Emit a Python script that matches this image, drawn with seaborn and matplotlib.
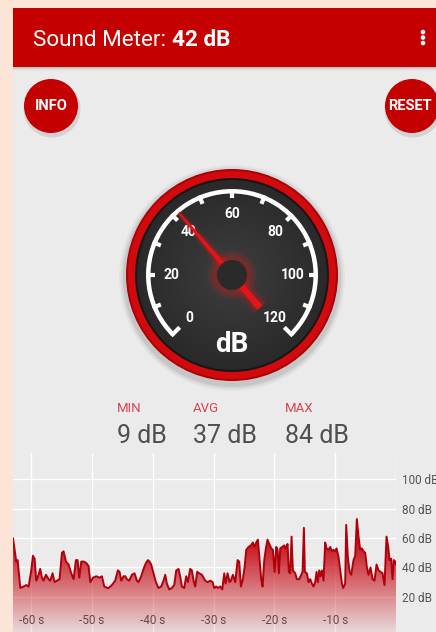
import numpy as np
import matplotlib
matplotlib.use("Agg")
import matplotlib.pyplot as plt
import seaborn as sns
from matplotlib.patches import Circle, Wedge, Rectangle, Polygon

# valores
nivel_actual = 42
nombres_stats = ["MIN", "AVG", "MAX"]
valores_stats = [9, 37, 84]

escala_gauge = [0, 10, 20, 30, 40, 50, 60, 70, 80, 90, 100, 110, 120]
etiquetas_gauge = [0, 20, 40, 60, 80, 100, 120]

ticks_seg = [-60, -50, -40, -30, -20, -10]
ticks_db = [20, 40, 60, 80, 100]

# historial (segundos, dB)
tiempos = [
    -63.0, -62.46, -62.24, -61.8, -61.26, -60.82, -60.43, -60.0, -59.72, -59.45,
    -59.17, -58.79, -58.52, -58.24, -57.97, -57.58, -57.15, -56.87, -56.49, -56.16,
    -55.77, -55.34, -54.95, -54.68, -54.29, -53.86, -53.42, -53.03, -52.65, -52.38,
    -52.1, -51.77, -51.39, -50.95, -50.57, -50.29, -49.85, -49.3, -48.76, -48.37,
    -47.99, -47.44,
    -47.28, -46.73, -46.19, -45.75, -45.47, -45.2, -44.81, -44.54, -44.27, -43.88,
    -43.44, -43.01, -42.62, -42.35, -41.91, -41.53, -41.14, -40.81, -40.54, -40.27,
    -39.88, -39.5, -39.06, -38.62, -38.24, -37.96, -37.69, -37.3, -36.87, -36.48,
    -36.15, -35.77, -35.5, -35.22, -34.84, -34.51, -34.23, -33.85, -33.58, -33.3,
    -33.03, -32.7, -32.37, -31.93,
    -31.38, -30.99, -30.56, -30.17, -29.9, -29.57, -29.29, -28.91, -28.58, -28.25,
    -28.03, -27.7, -27.38, -27.16, -26.83, -26.44, -26.06, -25.79, -25.51, -25.18,
    -24.91, -24.63, -24.25, -23.87, -23.54, -23.26, -22.99, -22.72, -22.44, -22.17,
    -21.95, -21.67, -21.4, -21.13, -20.85, -20.52, -20.25, -19.97, -19.7, -19.48,
    -19.26, -19.04, -18.71, -18.38, -18.11, -17.84, -17.62, -17.4, -17.18, -16.96,
    -16.58,
    -16.31, -15.92, -15.59, -15.37, -15.15, -14.99, -14.66, -14.39, -14.11, -13.84,
    -13.56, -13.29, -13.07, -12.85, -12.63, -12.41, -12.19, -11.92, -11.65, -11.43,
    -11.1, -10.82, -10.55, -10.28, -10.0, -9.78, -9.45, -9.18, -8.9, -8.69,
    -8.36, -8.19, -7.92, -7.64, -7.37, -6.99, -6.71, -6.44, -6.16, -5.89,
    -5.61, -5.34, -5.07, -4.79, -4.52, -4.19, -3.86, -3.53, -3.2, -2.87,
    -2.55, -2.22, -1.89, -1.56, -1.28, -1.06, -0.79, -0.57, -0.35, -0.13, 0.0,
]
niveles = [
    60, 44, 45, 26, 27, 28, 27, 38, 48, 46,
    31, 35, 39, 33, 31, 35, 32, 31, 36, 30,
    31, 32, 50, 51, 44, 42, 36, 32, 45, 45,
    33, 44, 44, 43, 41, 30, 33, 34, 33, 34,
    27, 26,
    26, 28, 31, 38, 37, 31, 34, 34, 32, 31,
    35, 36, 31, 30, 34, 39, 43, 45, 44, 42,
    36, 30, 26, 27, 31, 35, 29, 25, 26, 28,
    38, 39, 34, 27, 26, 34, 30, 39, 38, 31,
    27, 37, 36, 35,
    31, 30, 31, 30, 26, 27, 26, 27, 25, 36,
    29, 36, 30, 31, 35, 30, 45, 44, 27, 32,
    40, 52, 54, 55, 57, 54, 57, 59, 45, 32,
    27, 45, 53, 59, 56, 53, 52, 37, 54, 52,
    36, 53, 54, 55, 53, 56, 37, 36, 61, 38,
    36,
    32, 32, 35, 37, 67, 37, 36, 30, 32, 29,
    27, 30, 37, 30, 38, 34, 38, 31, 57, 53,
    52, 54, 51, 52, 51, 53, 47, 38, 29, 26,
    29, 69, 47, 37, 35, 45, 48, 73, 61, 52,
    53, 51, 50, 40, 35, 40, 32, 31, 42, 38,
    37, 36, 28, 61, 54, 45, 46, 32, 45, 44, 42,
]

ROJO = "#c40000"
FONDO = "#ebebeb"

sns.set_theme(style="darkgrid", rc={
    "axes.facecolor": FONDO,
    "grid.color": "white",
    "grid.linewidth": 1.0,
})
plt.rcParams["font.family"] = ["Roboto", "DejaVu Sans"]

fig = plt.figure(figsize=(4.36, 6.32), dpi=100, facecolor="#fce4d6")

# capa de fondo en pixeles (y hacia abajo)
ax_bg = fig.add_axes([0, 0, 1, 1])
ax_bg.set_xlim(0, 436)
ax_bg.set_ylim(632, 0)
ax_bg.axis("off")
ax_bg.patch.set_alpha(0)

ax_bg.add_patch(Rectangle((13, 8), 423, 624, fc=FONDO, lw=0))
for i, a in enumerate([0.18, 0.10, 0.05, 0.02]):
    ax_bg.add_patch(Rectangle((13, 67 + i), 423, 1, fc="black", alpha=a, lw=0))
ax_bg.add_patch(Rectangle((13, 8), 423, 59, fc=ROJO, lw=0))

t1 = ax_bg.text(33, 46, "Sound Meter:", color="white", fontsize=16.2, va="baseline")
fig.canvas.draw()
bb = t1.get_window_extent()
x_fin = ax_bg.transData.inverted().transform((bb.x1, bb.y0))[0]
ax_bg.text(x_fin + 6, 46, f"{nivel_actual} dB", color="white", fontsize=16.2,
           fontweight="bold", va="baseline")
for yy in [32, 37.5, 43]:
    ax_bg.add_patch(Circle((423, yy), 2.3, fc="white", lw=0))

# botones INFO / RESET
for cx, txt, tx in [(51, "INFO", 51), (412, "RESET", 410)]:
    ax_bg.add_patch(Circle((cx + 1, 109), 28.5, fc="black", alpha=0.10, lw=0))
    ax_bg.add_patch(Circle((cx, 106), 27, fc=ROJO, lw=0))
    ax_bg.text(tx, 106, txt, color="white", fontsize=10.5, fontweight="bold",
               ha="center", va="center")

# MIN / AVG / MAX
for x0, nom, val in zip([117, 193, 285], nombres_stats, valores_stats):
    ax_bg.text(x0, 409, nom, color="#d4454f", fontsize=9.5, va="center")
    ax_bg.text(x0, 436, f"{val} dB", color="#4f4f4f", fontsize=18, va="center")

# gauge, 1 unidad = 1 px
ax_g = fig.add_axes([(232 - 120) / 436, (632 - 275 - 120) / 632, 240 / 436, 240 / 632])
ax_g.set_xlim(-120, 120)
ax_g.set_ylim(-120, 120)
ax_g.axis("off")
ax_g.patch.set_alpha(0)


def angulo(v):
    return np.deg2rad(225 - v * 270 / 120)


for r, a in [(113, 0.03), (111, 0.05), (109, 0.08)]:
    ax_g.add_patch(Circle((0, -3), r, fc="black", alpha=a, lw=0))
ax_g.add_patch(Circle((0, 0), 106, fc="#a80408", lw=0))
ax_g.add_patch(Circle((0, 0), 104, fc="#d20a0e", lw=0))
ax_g.add_patch(Circle((0, 0), 97, fc="#161616", lw=0))

yy, xx = np.mgrid[-1:1:200j, -1:1:200j]
rr = np.sqrt(xx ** 2 + yy ** 2)
cara = ax_g.imshow(np.clip(rr, 0, 1), cmap=sns.dark_palette("#404040", as_cmap=True, reverse=True),
                   vmin=-0.1, vmax=1.2, extent=[-95, 95, -95, 95], zorder=2)
circ_cara = Circle((0, 0), 95, transform=ax_g.transData)
cara.set_clip_path(circ_cara)

ax_g.add_patch(Wedge((0, 0), 86, -45, 225, width=4.5, fc="white", lw=0, zorder=3))
for v in escala_gauge:
    a = angulo(v)
    r0 = 74 if v in (0, 120) else 77
    ax_g.plot([r0 * np.cos(a), 86 * np.cos(a)], [r0 * np.sin(a), 86 * np.sin(a)],
              color="white", lw=3, solid_capstyle="butt", zorder=3)
for v in etiquetas_gauge:
    a = angulo(v)
    ax_g.text(61 * np.cos(a), 61 * np.sin(a), str(v), color="white", fontsize=10,
              fontweight="bold", ha="center", va="center", zorder=4)
ax_g.text(0, -70, "dB", color="white", fontsize=20, fontweight="bold",
          ha="center", va="center", zorder=4)

# aguja
a = angulo(nivel_actual)
u = np.array([np.cos(a), np.sin(a)])
p = np.array([-np.sin(a), np.cos(a)])
for k, al in [(3.0, 0.10), (2.0, 0.18)]:
    ax_g.add_patch(Polygon([u * 82 + p * k, u * 82 - p * k, -u * 43 - p * 3.5 * k, -u * 43 + p * 3.5 * k],
                           fc="#ff1010", alpha=al, lw=0, zorder=5))
ax_g.add_patch(Polygon([u * 82 + p * 1.0, u * 82 - p * 1.0, -u * 43 - p * 3.5, -u * 43 + p * 3.5],
                       fc="#e3141a", lw=0, zorder=6))
for r, al in [(24, 0.12), (20, 0.2)]:
    ax_g.add_patch(Circle((0, 0), r, fc="#ff1010", alpha=al, lw=0, zorder=6))
ax_g.add_patch(Circle((0, 0), 15, fc="#2a2a2a", lw=0, zorder=7))

# grafica de historial
ax = fig.add_axes([13 / 436, 0, (396 - 13) / 436, (632 - 453) / 632])
y_min, y_max = -4, 118
sns.lineplot(x=tiempos, y=niveles, ax=ax, color="#b0000c", linewidth=1.4,
             estimator=None, zorder=3)
relleno = ax.fill_between(tiempos, niveles, y_min, color="none", lw=0)
# degradado vertical del relleno
y_sat = 57
grad = np.zeros((256, 1, 4))
grad[:, 0, :3] = matplotlib.colors.to_rgb("#c8121c")
grad[:, 0, 3] = 0.09 + 0.91 * np.linspace(0, 1, 256)
img = ax.imshow(grad, extent=[-63, 0, y_min, y_sat], origin="lower", aspect="auto", zorder=2)
img.set_clip_path(relleno.get_paths()[0], transform=ax.transData)
ax.add_patch(Rectangle((-63, y_sat), 63, 30, fc="#c8121c", lw=0, zorder=2,
                       clip_path=(relleno.get_paths()[0], ax.transData)))

ax.set_xlim(-63, 0)
ax.set_ylim(y_min, y_max)
ax.set_xticks(ticks_seg + [0])
ax.set_xticklabels([f"{v} s" for v in ticks_seg] + [""])
ax.set_yticks(ticks_db)
ax.set_yticklabels([f"{v} dB" for v in ticks_db])
ax.yaxis.tick_right()
ax.tick_params(axis="x", length=0, pad=-13, labelsize=8.5, labelcolor="#555555")
ax.tick_params(axis="y", length=0, pad=4, labelsize=8.5, labelcolor="#555555")
ax.set_xlabel("")
ax.set_ylabel("")
for s in ax.spines.values():
    s.set_visible(False)

fig.savefig("out.png", dpi=100, facecolor=fig.get_facecolor())
